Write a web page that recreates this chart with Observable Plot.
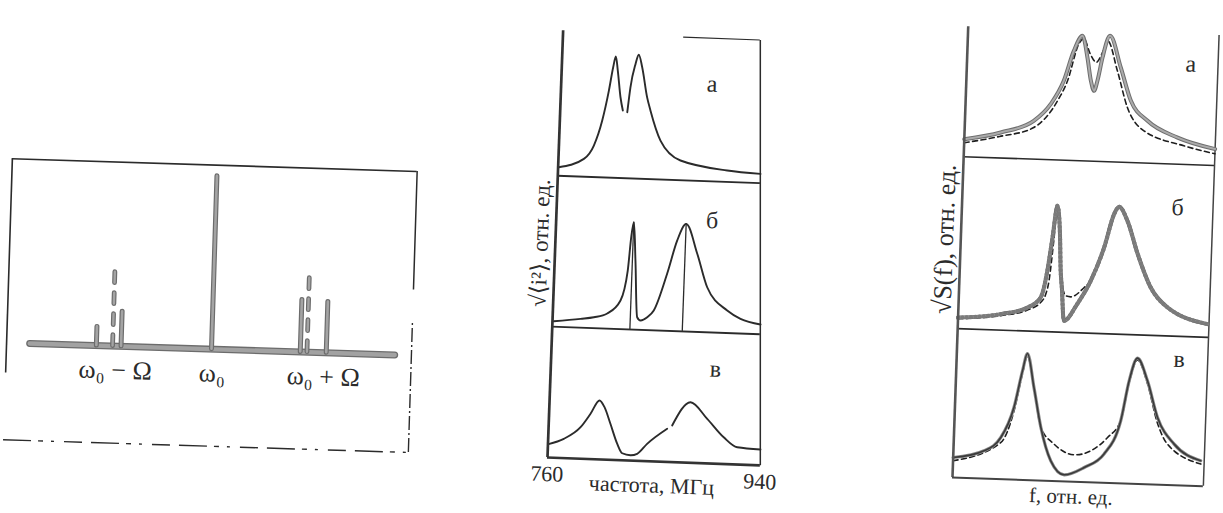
<!DOCTYPE html>
<html><head><meta charset="utf-8">
<script src="https://cdn.jsdelivr.net/npm/d3@7"></script>
<script src="https://cdn.jsdelivr.net/npm/@observablehq/plot@0.6"></script>
<style>
html,body{margin:0;padding:0;background:#fff;}
#fig{position:relative;width:1223px;height:513px;overflow:hidden;background:#fff;}
.panel{position:absolute;}
.panel svg{max-width:none !important;background:transparent !important;overflow:visible;}
</style></head><body><div id="fig"></div>
<script>
// ================= DATA =================
// Panel 1: spectral lines; x in units of Ω measured from ω0, height relative to the ω0 line
const lineX = [-1.152, -0.905, 0, 0.888, 1.148];
const lineH = [0.108, 0.2, 1, 0.3, 0.294];
const dashLineX = [-0.99, 0.955];
const dashLineH = [0.453, 0.457];
const baseSpan = [-1.814, 1.838];
const freqLabels = ["ω₀ − Ω", "ω₀", "ω₀ + Ω"];
const freqLabelX = [-0.956, 0.012, 1.126];

// Panel 2: √<i²> vs frequency (MHz), relative units inside each sub-panel
const mhzTicks = [760, 940];
const curve2a = [[760.5,8.5],[781.5,17.8],[789.5,31.5],[795.8,56.8],[800.5,86.9],[803.4,110.4],[805.3,121.2],[807.4,107.3],[810.5,80.7],[812.9,67.5],[814.8,null],[816.7,66],[818.6,91],[822.2,114.6],[824.6,124],[827.9,111.5],[833,81.6],[836.2,68.6],[845.6,38.9],[863.1,19.7],[902.9,11.4],[931.1,9.3]];
const curve2b = [[761.1,5.4],[783.6,8.8],[794.8,10.9],[806,15.1],[816.8,28.6],[822,58.8],[823.9,92.2],[825.6,107.3],[828.2,69],[831.4,12.5],[834.3,9.3],[839.9,12.8],[845.2,19.8],[855.4,57.3],[862.8,90.5],[869.9,107.6],[880.1,78.4],[889.6,45],[907.2,22.5],[918.7,14.7],[935.8,9.7]];
const stems2b = [[825.6,107.3],[869.9,107.6]];
const curve2c = [[760.5,13.5],[773.2,19.3],[787,31.5],[795,45.3],[802.2,58.9],[806.6,52.4],[812.1,36],[818.5,16.2],[823,7],[830,5.3],[835.6,7],[843.7,17.3],[860.2,33.1],[862.2,null],[864.3,36.6],[879.1,60.5],[893.7,44.5],[908.2,26.7],[919.9,17.2],[939.6,15.8]];

// Panel 3: √S(f) vs f (relative units); solid = experiment, dashed = calculation
const curve3aSolid = [[0,17.5],[0.144,25.5],[0.274,38.3],[0.339,55.6],[0.388,79.4],[0.424,109.6],[0.456,125],[0.479,103.4],[0.496,80.3],[0.51,70.4],[0.522,80.6],[0.539,103.9],[0.566,125.9],[0.613,94.7],[0.658,61.7],[0.727,42.3],[0.849,26.6],[1,16.4]];
const curve3aDash = [[0,14],[0.14,21.5],[0.275,31.6],[0.366,59.2],[0.403,79.5],[0.443,116.8],[0.462,122],[0.49,107],[0.515,99],[0.54,110],[0.557,120.8],[0.6,91.3],[0.645,54.9],[0.714,32.2],[0.875,18.6],[1,11.7]];
const curve3bSolid = [[0,11],[0.17,16],[0.275,23.5],[0.326,34],[0.349,60.9],[0.365,94.4],[0.38,126.2],[0.395,94.6],[0.402,61.4],[0.409,44.7],[0.422,11.5],[0.473,29],[0.523,52.4],[0.572,86.2],[0.607,119.8],[0.626,127.3],[0.661,113.6],[0.706,81.1],[0.763,47.8],[0.833,28.4],[0.994,13.2]];
const curve3bDash = [[0,10],[0.17,14.5],[0.275,21],[0.33,30],[0.346,37.6],[0.357,51],[0.37,90],[0.38,124],[0.392,100],[0.405,55],[0.426,36.6],[0.446,35.7],[0.498,45.5],[0.523,52.4],[0.572,86.2],[0.607,119.8],[0.626,127.3],[0.661,113.6],[0.706,81.1],[0.763,47.8],[0.833,28.4],[0.994,13.2]];
const curve3cSolid = [[0,20],[0.122,27.8],[0.187,41.7],[0.235,72.1],[0.264,109],[0.281,126.5],[0.312,92.7],[0.345,53.1],[0.389,20.1],[0.444,6.6],[0.523,14.6],[0.6,28.7],[0.662,62.6],[0.69,102.8],[0.72,125.8],[0.763,103.4],[0.808,67.2],[0.878,41.1],[0.986,25.4]];
const curve3cDash = [[0,16.8],[0.188,36.7],[0.235,68],[0.264,106],[0.281,124],[0.312,92.7],[0.345,53.1],[0.4,36.9],[0.481,26.9],[0.547,31.5],[0.612,45.4],[0.662,62.6],[0.69,101],[0.72,124],[0.763,101],[0.808,62],[0.851,40.9],[0.987,22.1]];

// Sub-panel letters and axis texts
const subNames = ["а", "б", "в"];
const sub2X = [887.5, 891.7, 899.2];
const sub2Y = [97.4, 111.8, 94.7];
const sub3X = [0.892, 0.859, 0.886];
const sub3Y = [100.5, 128.7, 126.2];
const yTitle2 = "√⟨i²⟩, отн. ед.";
const xTitle2 = "частота, МГц";
const yTitle3 = "√S(f), отн. ед.";
const xTitle3 = "f, отн. ед.";

// ================= LAYOUT =================
const SERIF = "'Liberation Serif', 'DejaVu Serif', 'Times New Roman', serif";
const INK = "#2b2b2b";
const fig = document.getElementById("fig");

function place(svg, L) {
  const d = document.createElement("div");
  d.className = "panel";
  d.style.left = L.left + "px";
  d.style.top = L.top + "px";
  d.style.width = L.w + "px";
  d.style.height = L.h + "px";
  d.style.transformOrigin = L.ox + "px " + L.oy + "px";
  d.style.transform = "rotate(" + L.rot + "deg)";
  d.appendChild(svg);
  fig.appendChild(d);
}
const rows = (pts, base) => pts.map(([x, v]) => ({x, v: v == null ? NaN : v + base}));

// ---------- Panel 1 ----------
{
  const L = {w: 415, h: 290, left: -1.7, top: 151.4, ox: 0, oy: 290, rot: 1.8};
  const F = {left: -2.05, right: 2.0, top: 1.064, bottom: -0.561, leftFrom: -0.175, gap: [0.187, 0.378], labelY: -0.14};
  const spikes = lineX.map((x, i) => ({x, h: lineH[i]}));
  const dspikes = dashLineX.map((x, i) => ({x, h: dashLineH[i]}));
  const labs = freqLabels.map((t, i) => ({t, x: freqLabelX[i]}));
  const svg = Plot.plot({
    width: L.w, height: L.h, margin: 0,
    x: {domain: [-2.1, 2.05], axis: null},
    y: {domain: [-0.572, 1.104], axis: null},
    style: {fontFamily: SERIF, fontSize: "26px", background: "transparent"},
    marks: [
      Plot.ruleX([F.left], {y1: F.leftFrom, y2: F.top, stroke: INK, strokeWidth: 1.6}),
      Plot.ruleY([F.top], {x1: F.left, x2: F.right, stroke: INK, strokeWidth: 1.6}),
      Plot.ruleX([F.right], {y1: F.gap[1], y2: F.top, stroke: INK, strokeWidth: 1.5}),
      Plot.ruleX([F.right], {y1: F.bottom, y2: F.gap[0], stroke: INK, strokeWidth: 1.4, strokeDasharray: "14,3,2,3"}),
      Plot.ruleY([F.bottom], {x1: F.left, x2: F.right, stroke: INK, strokeWidth: 1.4, strokeDasharray: "28,7,5,8,3,10,18,9"}),
      Plot.ruleY([0], {x1: baseSpan[0], x2: baseSpan[1], stroke: "#6c6c6c", strokeWidth: 7, strokeLinecap: "round"}),
      Plot.ruleY([0], {x1: baseSpan[0], x2: baseSpan[1], stroke: "#a2a2a2", strokeWidth: 4.4, strokeLinecap: "round"}),
      Plot.ruleX(spikes, {x: "x", y1: 0, y2: "h", stroke: "#6c6c6c", strokeWidth: 5, strokeLinecap: "round"}),
      Plot.ruleX(spikes, {x: "x", y1: 0, y2: "h", stroke: "#a4a4a4", strokeWidth: 2.6, strokeLinecap: "round"}),
      Plot.ruleX(dspikes, {x: "x", y1: 0, y2: "h", stroke: "#6c6c6c", strokeWidth: 4.8, strokeLinecap: "round", strokeDasharray: "11,10"}),
      Plot.ruleX(dspikes, {x: "x", y1: 0, y2: "h", stroke: "#a4a4a4", strokeWidth: 2.4, strokeLinecap: "round", strokeDasharray: "11,10"}),
      Plot.text(labs, {x: "x", y: F.labelY, text: "t", fill: INK, fontSize: 26})
    ]
  });
  place(svg, L);
}

// ---------- Panel 2 ----------
{
  const L = {w: 263, h: 475, left: 517, top: 22, ox: 30, oy: 435, rot: 2.1};
  const base = [282, 131, 0];        // bottoms of sub-panels а, б, в
  const H = 425;
  const edge = [940, 935.9, 931.3, 926.8];   // right edge (the scan's right border stays upright)
  const curves = [curve2a, curve2b, curve2c];
  const stems = stems2b.map(([x, v]) => ({x, v: v + base[1]}));
  const subs = subNames.map((t, i) => ({t, x: sub2X[i], v: sub2Y[i] + base[i]}));
  const seps = [{y: base[1], x2: edge[1]}, {y: base[0], x2: edge[2]}];
  const svg = Plot.plot({
    width: L.w, height: L.h, marginLeft: 30, marginRight: 20, marginTop: 10, marginBottom: 40,
    x: {domain: [760, 940]},
    y: {domain: [0, H], axis: null},
    style: {fontFamily: SERIF, fontSize: "22px", background: "transparent"},
    marks: [
      Plot.ruleY(seps, {y: "y", x1: 760, x2: "x2", stroke: INK, strokeWidth: 1.9}),
      Plot.ruleY([H], {x1: 862, x2: edge[3], stroke: INK, strokeWidth: 1.2}),
      Plot.link([{x1: edge[0], y1: 0, x2: edge[3], y2: H}], {x1: "x1", y1: "y1", x2: "x2", y2: "y2", stroke: INK, strokeWidth: 1.5}),
      Plot.ruleX(stems, {x: "x", y1: base[1], y2: "v", stroke: INK, strokeWidth: 1.3}),
      ...curves.map((c, i) => Plot.line(rows(c, base[i]), {x: "x", y: "v", curve: "monotone-x", stroke: INK, strokeWidth: 1.9})),
      Plot.ruleX([760], {y1: 0, y2: H + 2, stroke: "#333", strokeWidth: 2.7}),
      Plot.ruleY([0], {x1: 760, x2: 940, stroke: "#333", strokeWidth: 2.7}),
      Plot.text(subs, {x: "x", y: "v", text: "t", fill: INK, fontSize: 24}),
      Plot.axisX(mhzTicks, {tickSize: 0, tickPadding: 8, label: null, fill: INK, fontSize: 22}),
      Plot.text([xTitle2], {x: 848.7, y: -24.2, text: (d) => d, fill: INK, fontSize: 22}),
      Plot.text([yTitle2], {frameAnchor: "left", y: 214, dx: -15, rotate: -90, textAnchor: "middle", lineAnchor: "middle", text: (d) => d, fill: INK, fontSize: 23})
    ]
  });
  place(svg, L);
}

// ---------- Panel 3 ----------
{
  const L = {w: 296, h: 496, left: 921.7, top: 20.7, ox: 30, oy: 456, rot: 2.0};
  const base = [321, 149, 0];
  const H = 451;
  const solids = [curve3aSolid, curve3bSolid, curve3cSolid];
  const dashes = [curve3aDash, curve3bDash, curve3cDash];
  const subs = subNames.map((t, i) => ({t, x: sub3X[i], v: sub3Y[i] + base[i]}));
  const dashMarks = dashes.map((c, i) => Plot.line(rows(c, base[i]), {x: "x", y: "v", curve: "monotone-x", stroke: "#1e1e1e", strokeWidth: 1.6, strokeDasharray: "5,3.5"}));
  const solidMarks = [];
  solids.forEach((c, i) => {
    const r = rows(c, base[i]);
    if (i === 2) {
      solidMarks.push(Plot.line(r, {x: "x", y: "v", curve: "monotone-x", stroke: "#8a8a8a", strokeWidth: 3.2}));
      solidMarks.push(Plot.line(r, {x: "x", y: "v", curve: "monotone-x", stroke: "#3a3a3a", strokeWidth: 1.6}));
    } else {
      solidMarks.push(Plot.line(r, {x: "x", y: "v", curve: "monotone-x", stroke: "#6e6e6e", strokeWidth: 4}));
      solidMarks.push(Plot.line(r, {x: "x", y: "v", curve: "monotone-x", stroke: "#ababab", strokeWidth: 2}));
      if (i === 1) solidMarks.push(Plot.line(r, {x: "x", y: "v", curve: "monotone-x", stroke: "#7a7a7a", strokeWidth: 4.2, strokeDasharray: "0.1,4.2", strokeLinecap: "round"}));
    }
  });
  const svg = Plot.plot({
    width: L.w, height: L.h, marginLeft: 30, marginRight: 15, marginTop: 5, marginBottom: 40,
    x: {domain: [0, 1], axis: null},
    y: {domain: [0, H], axis: null},
    style: {fontFamily: SERIF, fontSize: "22px", background: "transparent"},
    marks: [
      Plot.ruleY(base.slice(0, 2), {x1: 0, x2: 1, stroke: INK, strokeWidth: 1.6}),
      Plot.ruleX([1], {y1: 0, y2: H, stroke: "#444", strokeWidth: 1.5}),
      ...dashMarks,
      ...solidMarks,
      Plot.ruleX([0], {y1: 0, y2: H, stroke: "#555", strokeWidth: 2.6}),
      Plot.ruleY([0], {x1: 0, x2: 1, stroke: "#444", strokeWidth: 2}),
      Plot.text(subs, {x: "x", y: "v", text: "t", fill: INK, fontSize: 24}),
      Plot.text([xTitle3], {x: 0.474, y: -15, text: (d) => d, fill: INK, fontSize: 21}),
      Plot.text([yTitle3], {frameAnchor: "left", y: 238, dx: -16, rotate: -90, textAnchor: "middle", lineAnchor: "middle", text: (d) => d, fill: INK, fontSize: 26})
    ]
  });
  place(svg, L);
}
</script></body></html>
